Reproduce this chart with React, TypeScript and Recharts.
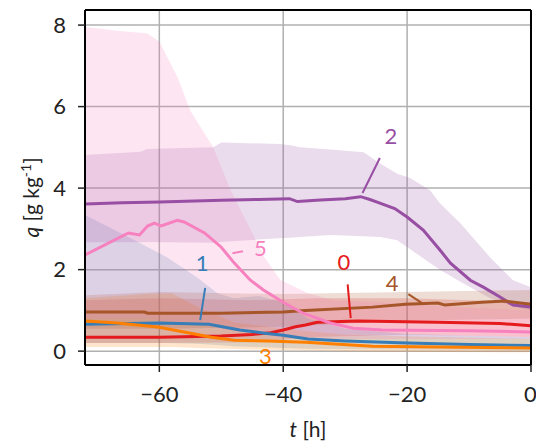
import {
  ComposedChart, Line, Area, XAxis, YAxis, CartesianGrid, ReferenceLine, ReferenceDot, Label,
} from 'recharts'

const RED = '#e41a1c'
const BLUE = '#377eb8'
const PURPLE = '#984ea3'
const ORANGE = '#ff7f00'
const BROWN = '#a65628'
const PINK = '#f781bf'
const FONT = 'Lato, "Open Sans", sans-serif'

const X_TICKS = [-60, -40, -20, 0]
const Y_TICKS = [0, 2, 4, 6, 8]

// [t, q]
const line0 = [[-72, 0.34], [-60, 0.34], [-50, 0.37], [-45, 0.41], [-42, 0.45], [-40, 0.52], [-38, 0.6], [-36.4, 0.64], [-34.5, 0.71], [-28, 0.74], [-15, 0.71], [-5, 0.68], [0, 0.62]]
const line1 = [[-72, 0.66], [-60, 0.69], [-52, 0.66], [-47, 0.52], [-43, 0.44], [-40, 0.39], [-36, 0.3], [-30, 0.25], [-20, 0.2], [-10, 0.16], [0, 0.14]]
const line2 = [[-72, 3.61], [-66, 3.64], [-60, 3.66], [-50, 3.7], [-44, 3.72], [-39, 3.74], [-37.7, 3.67], [-34, 3.71], [-30, 3.74], [-27.5, 3.79], [-26, 3.72], [-24.4, 3.63], [-22, 3.5], [-20, 3.29], [-17.4, 2.97], [-14.7, 2.48], [-13, 2.16], [-9.8, 1.74], [-7.7, 1.57], [-5, 1.33], [-2.9, 1.13], [0, 1.08]]
const line3 = [[-72, 0.74], [-66.8, 0.69], [-60.3, 0.59], [-56, 0.47], [-51.6, 0.34], [-47.9, 0.27], [-42.6, 0.25], [-36.4, 0.22], [-25.6, 0.12], [-15, 0.1], [0, 0.08]]
const line4 = [[-72, 0.96], [-62.4, 0.96], [-61.9, 0.93], [-50, 0.93], [-40, 0.96], [-36.4, 1.0], [-25.6, 1.08], [-20.3, 1.15], [-15, 1.18], [-13.9, 1.13], [-8, 1.2], [-4.2, 1.23], [0, 1.15]]
const line5 = [[-72, 2.36], [-65, 2.9], [-63.2, 2.85], [-61.9, 3.07], [-60.8, 3.14], [-59.7, 3.07], [-57.1, 3.21], [-56, 3.17], [-52.7, 2.9], [-50, 2.55], [-47.9, 2.16], [-45.3, 1.74], [-43.2, 1.5], [-40, 1.2], [-36.8, 0.93], [-32.4, 0.69], [-28.7, 0.56], [-24, 0.52], [-10, 0.5], [0, 0.47]]

// [t, low, high]
const band0 = [[-72, 0.2, 1.25], [-60, 0.2, 1.3], [-45, 0.22, 1.25], [-35, 0.35, 1.3], [-20, 0.4, 1.3], [0, 0.35, 1.2]]
const band1 = [[-72, 0.2, 3.34], [-64, 0.2, 2.72], [-58.7, 0.2, 2.3], [-54, 0.18, 1.82], [-50.6, 0.15, 1.42], [-48, 0.12, 1.3], [-44, 0.1, 1.35], [-40, 0.08, 1.2], [-36, 0.06, 0.8], [-30, 0.05, 0.55], [-20, 0.04, 0.42], [-10, 0.03, 0.38], [0, 0.02, 0.35]]
const band2 = [[-72, 2.67, 4.81], [-63, 2.67, 4.89], [-62, 2.68, 4.96], [-51.3, 2.66, 5.0], [-50, 2.68, 5.12], [-40.5, 2.77, 5.08], [-38.9, 2.78, 5.05], [-37.3, 2.8, 5.0], [-32.4, 2.85, 4.95], [-27, 2.82, 4.88], [-24.3, 2.8, 4.6], [-21.6, 2.72, 4.35], [-19.5, 2.5, 4.25], [-16.3, 2.16, 3.95], [-14.7, 2.0, 3.63], [-11.4, 1.7, 3.14], [-6.6, 1.3, 2.3], [-2.9, 1.1, 1.74], [0, 1.0, 1.57]]
const band3 = [[-72, 0.1, 1.3], [-62, 0.1, 1.4], [-58, 0.1, 1.42], [-54, 0.08, 1.1], [-48, 0.05, 0.7], [-40, 0.03, 0.55], [-30, 0.0, 0.4], [-15, -0.02, 0.35], [0, -0.03, 0.3]]
const band4 = [[-72, 0.55, 1.37], [-60, 0.55, 1.45], [-40, 0.6, 1.4], [-20, 0.75, 1.45], [0, 0.8, 1.5]]
const band5 = [[-72, 0.8, 7.95], [-66, 0.8, 7.85], [-62, 0.8, 7.8], [-60, 0.75, 7.6], [-57, 0.7, 6.7], [-55, 0.65, 5.9], [-51.3, 0.6, 5.0], [-48.5, 0.5, 3.95], [-45, 0.45, 2.9], [-43, 0.4, 2.3], [-40.5, 0.35, 1.75], [-36, 0.3, 1.42], [-32, 0.3, 1.25], [-25, 0.3, 1.2], [-15, 0.3, 1.1], [0, 0.3, 1.0]]

// label text position and leader line ends [t, q]
const labels = [
  { name: '0', color: RED, at: [-30.2, 2.18], seg: [[-29.6, 1.64], [-29.1, 0.81]] },
  { name: '1', color: BLUE, at: [-53.1, 2.16], seg: [[-52.6, 1.55], [-53.4, 0.76]] },
  { name: '2', color: PURPLE, at: [-22.6, 5.28], seg: [[-24.4, 4.74], [-27.2, 3.88]] },
  { name: '3', color: ORANGE, at: [-42.9, -0.12], seg: null },
  { name: '4', color: BROWN, at: [-22.4, 1.67], seg: [[-19.8, 1.4], [-17.6, 1.18]] },
  { name: '5', color: PINK, at: [-43.7, 2.53], seg: [[-48.2, 2.4], [-46.5, 2.45]] },
]

const series = [
  { line: line0, band: band0, color: RED },
  { line: line1, band: band1, color: BLUE },
  { line: line2, band: band2, color: PURPLE },
  { line: line3, band: band3, color: ORANGE },
  { line: line4, band: band4, color: BROWN },
  { line: line5, band: band5, color: PINK },
]

const Y_MIN = -0.34
const Y_MAX = 8.37

const fmt = (v: number) => (v < 0 ? '\u2212' + Math.abs(v) : String(v))

function XTitle(props: any) {
  const { x, y, width } = props.viewBox
  return (
    <text x={x + width / 2} y={y + 72} textAnchor="middle" fontSize={21} fill="#222" fontFamily={FONT}>
      <tspan fontStyle="italic">t</tspan> [h]
    </text>
  )
}

function YTitle(props: any) {
  const { x, y, height } = props.viewBox
  const cx = x + 14
  const cy = y + height / 2 + 10
  return (
    <text x={cx} y={cy} transform={`rotate(-90 ${cx} ${cy})`} textAnchor="middle" fontSize={21} fill="#222" fontFamily={FONT}>
      <tspan fontStyle="italic">q</tspan> [g kg<tspan fontSize={14} dy={-8}>-1</tspan><tspan dy={8}>]</tspan>
    </text>
  )
}

export default function App() {
  return (
    <div style={{ position: 'absolute', left: 0, top: 0, background: '#fff' }}>
      <ComposedChart width={536} height={445} margin={{ top: 10, right: 5, left: 25, bottom: 50 }}>
        <CartesianGrid stroke="#b0b0b0" strokeWidth={1.5} />
        <XAxis
          type="number" dataKey="t" domain={[-72, 0]} ticks={X_TICKS} allowDataOverflow
          tickFormatter={fmt} height={30} tickSize={7} tickMargin={14}
          axisLine={{ stroke: '#000', strokeWidth: 2 }} tickLine={{ stroke: '#222', strokeWidth: 1.5 }}
          tick={{ fill: '#222', fontSize: 22, fontFamily: FONT }}
        >
          <Label content={XTitle} />
        </XAxis>
        <YAxis
          type="number" domain={[Y_MIN, Y_MAX]} ticks={Y_TICKS} allowDataOverflow
          width={60} tickSize={7} tickMargin={12}
          axisLine={{ stroke: '#000', strokeWidth: 2 }} tickLine={{ stroke: '#222', strokeWidth: 1.5 }}
          tick={{ fill: '#222', fontSize: 22, fontFamily: FONT }}
        >
          <Label content={YTitle} />
        </YAxis>

        {series.map((s, i) => (
          <Area
            key={'b' + i}
            data={s.band.map(([t, lo, hi]) => ({ t, r: [lo, hi] }))}
            dataKey="r" type="linear" stroke="none" fill={s.color} fillOpacity={0.2}
            isAnimationActive={false} dot={false} activeDot={false}
          />
        ))}
        {series.map((s, i) => (
          <Line
            key={'l' + i}
            data={s.line.map(([t, q]) => ({ t, q }))}
            dataKey="q" type="linear" stroke={s.color} strokeWidth={3}
            isAnimationActive={false} dot={false} activeDot={false}
          />
        ))}

        {labels.filter((l) => l.seg).map((l) => (
          <ReferenceLine
            key={'s' + l.name}
            segment={[{ x: l.seg![0][0], y: l.seg![0][1] }, { x: l.seg![1][0], y: l.seg![1][1] }]}
            stroke={l.color} strokeWidth={2}
          />
        ))}
        {labels.map((l) => (
          <ReferenceDot
            key={'t' + l.name}
            x={l.at[0]} y={l.at[1]} r={0} stroke="none" fill="none"
            label={{ value: l.name, position: 'center', fill: l.color, fontSize: 22, fontFamily: FONT }}
          />
        ))}

        <ReferenceLine y={Y_MAX} stroke="#000" strokeWidth={2} />
        <ReferenceLine x={0} stroke="#000" strokeWidth={2} />
      </ComposedChart>
    </div>
  )
}
